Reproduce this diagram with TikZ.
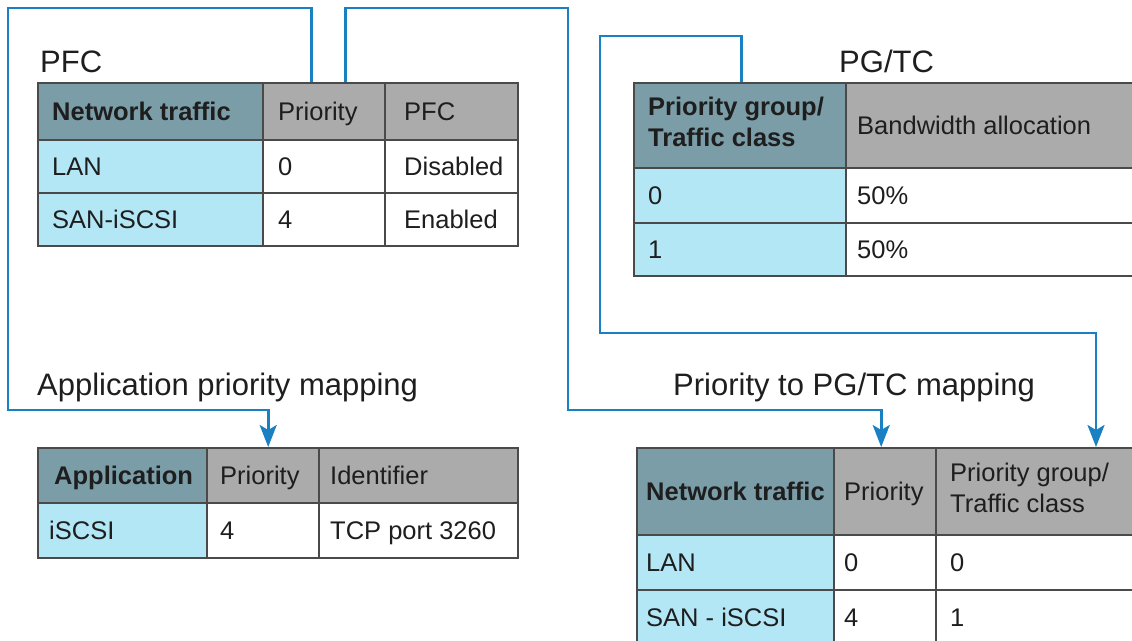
\documentclass[tikz,border=0pt]{standalone}
\usepackage{fontspec}
\setmainfont{Liberation Sans}
\usetikzlibrary{arrows.meta,calc}
\definecolor{hdark}{HTML}{7A9DA8}
\definecolor{hgray}{HTML}{ABABAB}
\definecolor{lcyan}{HTML}{B3E7F6}
\definecolor{bcol}{HTML}{4A4A4A}
\definecolor{lblue}{HTML}{1A80C4}
\definecolor{tcol}{HTML}{1E1E1E}
\begin{document}
\begin{tikzpicture}[x=1pt,y=-1pt,
 cellbox/.style={draw=bcol, line width=2.4pt, anchor=north west, inner sep=0pt},
 txt/.style={anchor=west, inner sep=0pt, text=tcol, font=\fontsize{25.5}{31}\selectfont, text height=18.3pt, text depth=0pt},
 btxt/.style={txt, font=\fontsize{25.5}{31}\selectfont\bfseries},
 txtii/.style={anchor=west, inner sep=0pt, text=tcol, align=left, font=\fontsize{25.5}{31}\selectfont},
 btxtii/.style={txtii, font=\fontsize{25.5}{31}\selectfont\bfseries},
 title/.style={anchor=base west, inner sep=0pt, text=tcol, font=\fontsize{31}{37}\selectfont},
 link/.style={draw=lblue, line width=2.6pt},
 arr/.style={link, -{Stealth[length=22pt,width=17pt,inset=5pt]}}
]
\useasboundingbox (0,0) rectangle (1132,640);
\clip (0,0) rectangle (1132,640);
\fill[white] (0,0) rectangle (1132,640);

% titles
\node[title] (tPFC) at (40,72) {PFC};
\node[title] (tPG) at (839,72) {PG/TC};
\node[title] (tAPP) at (37,395) {Application priority mapping};
\node[title] (tMAP) at (673,395) {Priority to PG/TC mapping};

% PFC table
\node[cellbox, fill=hdark, minimum width=225, minimum height=57] (pfcH1) at (37,82) {};
\node[cellbox, fill=hgray, minimum width=122, minimum height=57] (pfcH2) at (262,82) {};
\node[cellbox, fill=hgray, minimum width=133, minimum height=57] (pfcH3) at (384,82) {};
\node[cellbox, fill=lcyan, minimum width=225, minimum height=53] (pfcA1) at (37,139) {};
\node[cellbox, fill=white, minimum width=122, minimum height=53] (pfcA2) at (262,139) {};
\node[cellbox, fill=white, minimum width=133, minimum height=53] (pfcA3) at (384,139) {};
\node[cellbox, fill=lcyan, minimum width=225, minimum height=53] (pfcB1) at (37,192) {};
\node[cellbox, fill=white, minimum width=122, minimum height=53] (pfcB2) at (262,192) {};
\node[cellbox, fill=white, minimum width=133, minimum height=53] (pfcB3) at (384,192) {};
\node[btxt] (xpfcH1) at ([xshift=15]pfcH1.west) {Network traffic};
\node[txt] (xpfcH2) at ([xshift=16]pfcH2.west) {Priority};
\node[txt] (xpfcH3) at ([xshift=20]pfcH3.west) {PFC};
\node[txt] (xpfcA1) at ([xshift=15]pfcA1.west) {LAN};
\node[txt] (xpfcA2) at ([xshift=16]pfcA2.west) {0};
\node[txt] (xpfcA3) at ([xshift=20]pfcA3.west) {Disabled};
\node[txt] (xpfcB1) at ([xshift=15]pfcB1.west) {SAN-iSCSI};
\node[txt] (xpfcB2) at ([xshift=16]pfcB2.west) {4};
\node[txt] (xpfcB3) at ([xshift=20]pfcB3.west) {Enabled};

% PG/TC table
\node[cellbox, fill=hdark, minimum width=212, minimum height=85] (pgH1) at (633,82) {};
\node[cellbox, fill=hgray, minimum width=300, minimum height=85] (pgH2) at (845,82) {};
\node[cellbox, fill=lcyan, minimum width=212, minimum height=55] (pgA1) at (633,167) {};
\node[cellbox, fill=white, minimum width=300, minimum height=55] (pgA2) at (845,167) {};
\node[cellbox, fill=lcyan, minimum width=212, minimum height=53] (pgB1) at (633,222) {};
\node[cellbox, fill=white, minimum width=300, minimum height=53] (pgB2) at (845,222) {};
\node[btxtii] (xpgH1) at ([xshift=15,yshift=3.5]pgH1.west) {Priority group/\\Traffic class};
\node[txt] (xpgH2) at ([xshift=12]pgH2.west) {Bandwidth allocation};
\node[txt] (xpgA1) at ([xshift=15]pgA1.west) {0};
\node[txt] (xpgA2) at ([xshift=12]pgA2.west) {50\%};
\node[txt] (xpgB1) at ([xshift=15]pgB1.west) {1};
\node[txt] (xpgB2) at ([xshift=12]pgB2.west) {50\%};

% Application table
\node[cellbox, fill=hdark, minimum width=169, minimum height=55] (apH1) at (37,447) {};
\node[cellbox, fill=hgray, minimum width=112, minimum height=55] (apH2) at (206,447) {};
\node[cellbox, fill=hgray, minimum width=199, minimum height=55] (apH3) at (318,447) {};
\node[cellbox, fill=lcyan, minimum width=169, minimum height=55] (apA1) at (37,502) {};
\node[cellbox, fill=white, minimum width=112, minimum height=55] (apA2) at (206,502) {};
\node[cellbox, fill=white, minimum width=199, minimum height=55] (apA3) at (318,502) {};
\node[btxt] (xapH1) at ([xshift=17]apH1.west) {Application};
\node[txt] (xapH2) at ([xshift=14]apH2.west) {Priority};
\node[txt] (xapH3) at ([xshift=12]apH3.west) {Identifier};
\node[txt] (xapA1) at ([xshift=12]apA1.west) {iSCSI};
\node[txt] (xapA2) at ([xshift=14]apA2.west) {4};
\node[txt] (xapA3) at ([xshift=12]apA3.west) {TCP port 3260};

% Priority to PG/TC mapping table
\node[cellbox, fill=hdark, minimum width=197, minimum height=87] (mpH1) at (636,447) {};
\node[cellbox, fill=hgray, minimum width=102, minimum height=87] (mpH2) at (833,447) {};
\node[cellbox, fill=hgray, minimum width=220, minimum height=87] (mpH3) at (935,447) {};
\node[cellbox, fill=lcyan, minimum width=197, minimum height=55] (mpA1) at (636,534) {};
\node[cellbox, fill=white, minimum width=102, minimum height=55] (mpA2) at (833,534) {};
\node[cellbox, fill=white, minimum width=220, minimum height=55] (mpA3) at (935,534) {};
\node[cellbox, fill=lcyan, minimum width=197, minimum height=60] (mpB1) at (636,589) {};
\node[cellbox, fill=white, minimum width=102, minimum height=60] (mpB2) at (833,589) {};
\node[cellbox, fill=white, minimum width=220, minimum height=60] (mpB3) at (935,589) {};
\node[btxt] (xmpH1) at ([xshift=10]mpH1.west) {Network traffic};
\node[txt] (xmpH2) at ([xshift=11]mpH2.west) {Priority};
\node[txtii] (xmpH3) at ([xshift=15,yshift=3.5]mpH3.west) {Priority group/\\Traffic class};
\node[txt] (xmpA1) at ([xshift=10]mpA1.west) {LAN};
\node[txt] (xmpA2) at ([xshift=11]mpA2.west) {0};
\node[txt] (xmpA3) at ([xshift=15]mpA3.west) {0};
\node[txt] (xmpB1) at ([xshift=10,yshift=3]mpB1.west) {SAN - iSCSI};
\node[txt] (xmpB2) at ([xshift=11,yshift=3]mpB2.west) {4};
\node[txt] (xmpB3) at ([xshift=15,yshift=3]mpB3.west) {1};

% connectors
\coordinate (k1) at (8,8);
\coordinate (k2) at (568,8);
\coordinate (k3) at (600,36);
\draw[arr] ([xshift=-13]pfcH2.north) |- (k1) |- ([xshift=5,yshift=37]apH2.north) -- ([xshift=5]apH2.north);
\draw[arr] ([xshift=21]pfcH2.north) |- (k2) |- ([xshift=-4,yshift=37]mpH2.north) -- ([xshift=-4]mpH2.north);
\draw[arr] ([xshift=1]pgH1.north) |- (k3) |- ([xshift=161,yshift=114]mpH3.north west) -- ([xshift=161]mpH3.north west);
\end{tikzpicture}
\end{document}
